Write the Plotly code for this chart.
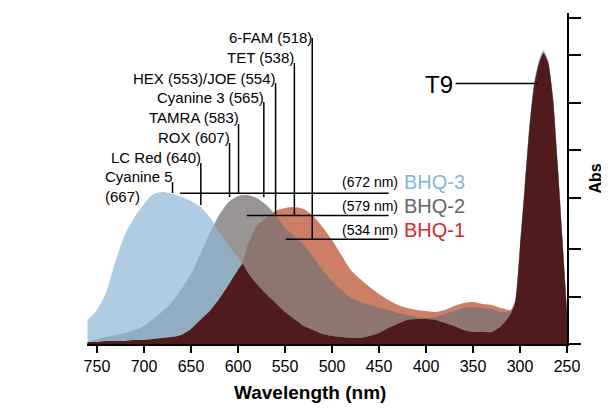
import numpy as np
import plotly.graph_objects as go

# ---- data (y in relative absorbance units) ----
wavelength = [760, 750, 740, 730, 720, 710, 700, 690, 680, 670, 660, 650, 640, 630, 620,
              610, 600, 595, 590, 580, 570, 560, 550, 540, 530, 520, 510, 500, 490, 480,
              470, 460, 450, 440, 430, 420, 410, 400, 390, 380, 370, 360, 350, 340, 330,
              320, 310, 305, 300, 295, 290, 285, 280, 275, 270, 265, 260, 255, 250]

bhq3 = [24, 34, 52, 84, 110, 127, 140, 150, 152, 150, 147, 143, 137, 127, 112,
        99, 86, 80, 72, 60, 50, 41, 32, 25, 18, 14, 10, 8, 7, 6,
        6, 8, 11, 16, 20, 24, 25, 25, 24, 21, 18, 14, 12, 12, 12,
        18, 30, 45, 100, 160, 220, 262, 284, 294, 284, 250, 185, 111, 35]

bhq2 = [2, 5, 7, 9, 11, 14, 18, 25, 33, 42, 55, 70, 90, 111, 129,
        142, 148, 149, 149, 146, 139, 129, 116, 108, 99, 87, 74, 63, 54, 46,
        42, 39, 36, 34, 31, 29, 27, 26, 27, 30, 33, 36, 37, 36, 35,
        32, 33, 42, 96, 155, 215, 258, 280, 291, 281, 246, 180, 105, 30]

bhq1 = [2, 2, 3, 3, 3, 4, 4, 5, 6, 7, 9, 15, 24, 33, 45,
        59, 74, 82, 98, 118, 126, 133, 136, 137, 135, 128, 117, 104, 89, 74,
        65, 57, 50, 44, 39, 36, 34, 33, 32, 34, 38, 41, 42, 40, 39,
        36, 34, 44, 98, 157, 217, 260, 282, 292, 282, 248, 182, 108, 32]

x_ticks = [250, 300, 350, 400, 450, 500, 550, 600, 650, 700, 750]
y_ticks = [0, 47, 95, 146, 194, 241, 289, 326]

dye_names = ["6-FAM (518)", "TET (538)", "HEX (553)/JOE (554)", "Cyanine 3 (565)",
             "TAMRA (583)", "ROX (607)", "LC Red (640)", "Cyanine 5<br>(667)"]
dye_line_nm = [521, 540, 560, 572.5, 599.4, 609, 639.5, 669.6]

bhq_names = ["BHQ-3", "BHQ-2", "BHQ-1"]
bhq_peaks = ["(672 nm)", "(579 nm)", "(534 nm)"]

overlap = np.minimum.reduce([np.array(bhq1), np.array(bhq2), np.array(bhq3)])

FONT = "Liberation Sans, Arial, Helvetica, sans-serif"
fig = go.Figure()

def area(y, color):
    fig.add_trace(go.Scatter(x=wavelength, y=y, mode="lines",
                             line=dict(width=0, shape="spline", smoothing=0.6),
                             fill="tozeroy", fillcolor=color,
                             hoverinfo="skip", showlegend=False))

area(bhq1, "#cc7f66")
area(bhq2, "rgba(121,116,114,0.76)")
area(bhq3, "rgba(139,184,214,0.70)")
area(overlap, "#4f1c1b")

# ---- connector lines ----
shapes = []
def seg(x0, y0, x1, y1):
    shapes.append(dict(type="line", xref="x", yref="y", x0=x0, y0=y0, x1=x1, y1=y1,
                       line=dict(color="black", width=1.5)))

dye_label_h = [307, 287, 266, 247, 227, 207, 187, 157.5]
dye_top_h = [306, 281, 261, 242, 220, 201, 181, 162]
dye_bot_h = [105, 129, 129, 147, 151, 147, 139, 151]
for x, t, b in zip(dye_line_nm, dye_top_h, dye_bot_h):
    seg(x, t, x, b)

bhq_line_h = [150.7, 128.5, 104.7]
bhq_line_start = [661.5, 590.6, 549.2]
for s, h in zip(bhq_line_start, bhq_line_h):
    seg(s, h, 439.7, h)

# T9 pointer
seg(368.5, 260.5, 281.3, 260.5)

ann = []
for name, x, h in zip(dye_names, dye_line_nm, dye_label_h):
    ann.append(dict(x=x, y=h, xref="x", yref="y", text=name, showarrow=False,
                    xanchor="right", yanchor="middle", align="left", xshift=2,
                    font=dict(family=FONT, size=15, color="black")))

bhq_colors = ["#86b6d8", "#666666", "#d42a2a"]
bhq_text_h = [162, 138, 114]
for name, pk, c, h in zip(bhq_names, bhq_peaks, bhq_colors, bhq_text_h):
    ann.append(dict(x=430.1, y=h, xref="x", yref="y", text=pk, showarrow=False,
                    xanchor="right", yanchor="middle", xshift=2,
                    font=dict(family=FONT, size=14, color="black")))
    ann.append(dict(x=423.8, y=h, xref="x", yref="y", text=name, showarrow=False,
                    xanchor="left", yanchor="middle", xshift=-2,
                    font=dict(family=FONT, size=20, color=c)))

ann.append(dict(x=371.7, y=260, xref="x", yref="y", text="T9", showarrow=False,
                xanchor="right", yanchor="middle", xshift=2,
                font=dict(family=FONT, size=24, color="black")))

ann.append(dict(x=0.4646, y=-0.148, xref="paper", yref="paper", text="<b>Wavelength (nm)</b>",
                showarrow=False, xanchor="center", yanchor="middle",
                font=dict(family=FONT, size=19, color="black")))

# the page body has an 8px margin, so the figure is 8px smaller and shifted
fig.update_layout(
    width=601, height=402,
    margin=dict(l=79, r=42, t=5, b=66),
    paper_bgcolor="white", plot_bgcolor="white",
    shapes=shapes, annotations=ann,
    xaxis=dict(range=[760.6, 250], tickvals=x_ticks, ticks="outside", ticklen=7,
               tickwidth=2, tickcolor="black", showline=True, linecolor="black",
               linewidth=2, showgrid=False, zeroline=False,
               tickfont=dict(family=FONT, size=16, color="black")),
    yaxis=dict(range=[0, 331], side="right", tickvals=y_ticks, ticks="outside",
               ticklen=12, tickwidth=2, tickcolor="black", showticklabels=False,
               showline=True, linecolor="black", linewidth=2, showgrid=False,
               zeroline=False, automargin=False,
               title=dict(text="<b>Abs</b>", standoff=10,
                          font=dict(family=FONT, size=16, color="black"))),
)

fig.write_html("out.html")
